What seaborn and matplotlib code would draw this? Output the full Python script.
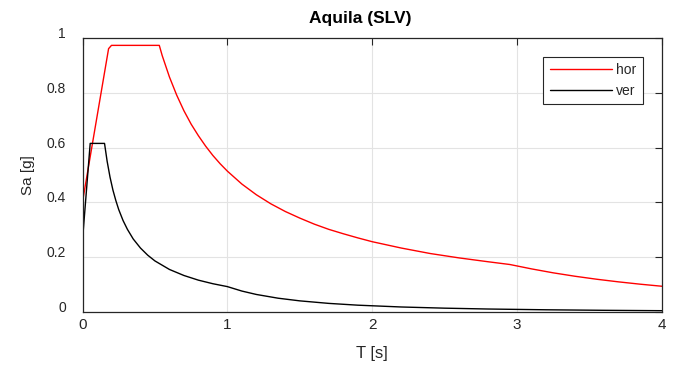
"""Spettro di risposta elastico - Aquila (SLV)."""

import matplotlib
matplotlib.use("Agg")
import matplotlib.pyplot as plt
import pandas as pd
import seaborn as sns

# spettro orizzontale
T_HOR = [0.0, 0.18, 0.2, 0.53, 0.55, 0.6, 0.65, 0.7, 0.75, 0.8, 0.85, 0.9, 0.95, 1.0,
         1.1, 1.2, 1.3, 1.4, 1.5, 1.6, 1.7, 1.8, 1.9, 2.0, 2.2, 2.4, 2.6, 2.8, 2.95,
         3.1, 3.25, 3.4, 3.55, 3.7, 3.85, 4.0]
SA_HOR = [0.402, 0.960, 0.972, 0.972, 0.935, 0.857, 0.791, 0.734, 0.685, 0.643, 0.605,
          0.571, 0.541, 0.514, 0.467, 0.428, 0.395, 0.367, 0.343, 0.321, 0.302, 0.286,
          0.271, 0.257, 0.234, 0.214, 0.198, 0.184, 0.174, 0.158, 0.1436, 0.1312,
          0.1203, 0.1108, 0.1023, 0.0948]

# spettro verticale
T_VER = [0.0, 0.053, 0.152, 0.17, 0.19, 0.21, 0.23, 0.25, 0.28, 0.31, 0.35, 0.4, 0.45,
         0.5, 0.6, 0.7, 0.8, 0.9, 1.0, 1.1, 1.2, 1.35, 1.5, 1.7, 1.9, 2.2, 2.5, 2.8,
         3.2, 3.6, 4.0]
SA_VER = [0.263, 0.615, 0.615, 0.550, 0.492, 0.445, 0.407, 0.374, 0.334, 0.302, 0.267,
          0.234, 0.208, 0.187, 0.156, 0.134, 0.117, 0.104, 0.0935, 0.0773, 0.0649,
          0.0513, 0.0416, 0.0324, 0.0259, 0.0193, 0.0150, 0.0119, 0.0091, 0.0072,
          0.0058]

X_TICKS = [0, 1, 2, 3, 4]
Y_TICKS = [0, 0.2, 0.4, 0.6, 0.8, 1]
Y_TICK_LABELS = ["0", "0.2", "0.4", "0.6", "0.8", "1"]

TEXT = "#262626"

sns.set_theme(style="white")
plt.rcParams["font.family"] = ["Liberation Sans", "DejaVu Sans"]

df_hor = pd.DataFrame({"T": T_HOR, "Sa": SA_HOR})
df_ver = pd.DataFrame({"T": T_VER, "Sa": SA_VER})

fig = plt.figure(figsize=(6.73, 3.68), dpi=100)
ax = fig.add_axes([0.1226, 0.1514, 0.861, 0.7462])

sns.lineplot(data=df_hor, x="T", y="Sa", color="red", lw=1.0, label="hor",
             estimator=None, sort=False, ax=ax)
sns.lineplot(data=df_ver, x="T", y="Sa", color="black", lw=1.0, label="ver",
             estimator=None, sort=False, ax=ax)

ax.set_xlim(0, 4)
ax.set_ylim(0, 1)
ax.set_xticks(X_TICKS)
ax.set_yticks(Y_TICKS)
ax.set_yticklabels(Y_TICK_LABELS)
ax.grid(True, color="#e3e3e3", lw=0.8)
ax.set_axisbelow(True)

for side in ["left", "right", "top", "bottom"]:
    ax.spines[side].set_visible(True)
    ax.spines[side].set_color(TEXT)
    ax.spines[side].set_linewidth(0.9)

ax.tick_params(axis="both", direction="in", length=5, width=0.8, color=TEXT,
               top=True, right=True, labelcolor=TEXT)
ax.tick_params(axis="x", labelsize=11, pad=4)
ax.tick_params(axis="y", labelsize=10, pad=12)
for lbl in ax.get_yticklabels():
    lbl.set_verticalalignment("baseline")

ax.set_xlabel("T [s]", fontsize=12, color=TEXT, labelpad=10)
ax.set_ylabel("Sa [g]", fontsize=11, color=TEXT, labelpad=8)
ax.set_title("Aquila (SLV)", fontsize=12.5, fontweight="bold", color="black",
             x=0.48, pad=10.5)

leg = ax.legend(loc="upper right", bbox_to_anchor=(0.967, 0.93), fontsize=10,
                handlelength=4.5, handletextpad=0.3, borderpad=0.45,
                labelspacing=0.5, fancybox=False, framealpha=1, borderaxespad=0)
leg.get_frame().set_edgecolor(TEXT)
leg.get_frame().set_linewidth(0.8)
for t in leg.get_texts():
    t.set_color(TEXT)

plt.savefig("out.png", dpi=100)
plt.close()
